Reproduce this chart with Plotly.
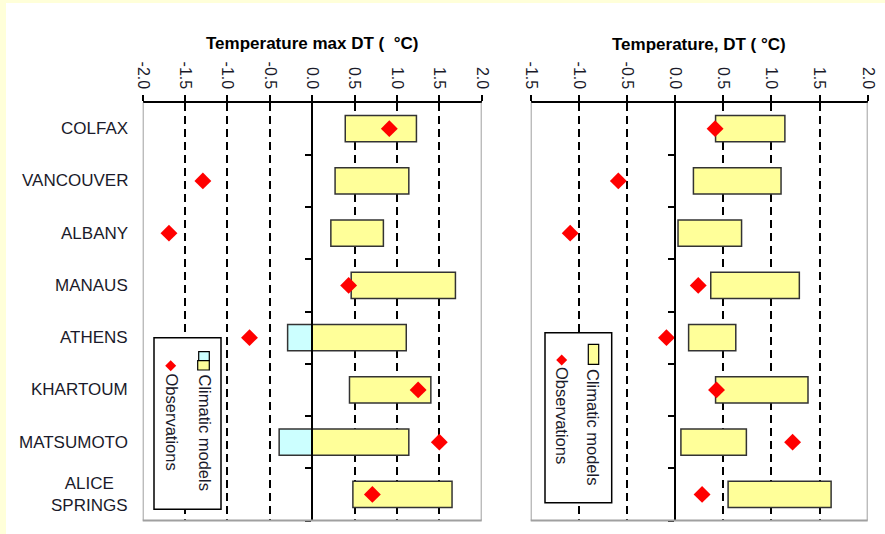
import plotly.graph_objects as go

# ---------------- data ----------------
cities = ["COLFAX", "VANCOUVER", "ALBANY", "MANAUS", "ATHENS", "KHARTOUM",
          "MATSUMOTO", "ALICE<br>SPRINGS"]
# Left panel: Temperature max DT (°C)
max_model_low = [0.39, 0.27, 0.22, 0.46, -0.29, 0.44, -0.39, 0.48]
max_model_high = [1.23, 1.14, 0.84, 1.69, 1.11, 1.40, 1.14, 1.65]
max_obs = [0.91, -1.29, -1.69, 0.43, -0.74, 1.25, 1.50, 0.71]
# Right panel: Temperature, DT (°C)
t_model_low = [0.42, 0.19, 0.03, 0.37, 0.14, 0.42, 0.06, 0.55]
t_model_high = [1.14, 1.10, 0.69, 1.29, 0.63, 1.38, 0.74, 1.62]
t_obs = [0.415, -0.59, -1.09, 0.24, -0.09, 0.43, 1.22, 0.28]

left_ticks = [-2.0, -1.5, -1.0, -0.5, 0.0, 0.5, 1.0, 1.5, 2.0]
right_ticks = [-1.5, -1.0, -0.5, 0.0, 0.5, 1.0, 1.5, 2.0]
left_title = "Temperature max DT ( \u00a0°C)"
right_title = "Temperature, DT ( °C)"
legend_models = "Climatic models"
legend_obs = "Observations"

# ---------------- layout constants ----------------
W, H = 885, 534
FONT = "Liberation Sans, Arial, sans-serif"
TXT = "#1a1a2a"
YELLOW = "#FFFF99"
CYAN = "#CCFFFF"
EDGE = "#333333"


def px(x):
    return x / W


def py(y):
    return 1 - y / H


ydom = [py(520.5), py(102.5)]
left_dom = [px(142.7), px(481.7)]
right_dom = [px(530.7), px(867.7)]
ypos = [i + 0.5 for i in range(len(cities))]

fig = go.Figure()


def add_panel(low, high, obs, xa, ya):
    neg_base, neg_len, neg_y = [], [], []
    pos_base, pos_len = [], []
    for lo, hi, y in zip(low, high, ypos):
        if lo < 0:
            neg_base.append(lo)
            neg_len.append(min(hi, 0) - lo)
            neg_y.append(y)
        b = max(lo, 0)
        pos_base.append(b)
        pos_len.append(hi - b)
    if neg_y:
        fig.add_trace(go.Bar(orientation="h", y=neg_y, x=neg_len, base=neg_base,
                             width=0.5, marker=dict(color=CYAN, line=dict(color=EDGE, width=1.5)),
                             xaxis=xa, yaxis=ya, showlegend=False, hoverinfo="skip"))
    fig.add_trace(go.Bar(orientation="h", y=ypos, x=pos_len, base=pos_base,
                         width=0.5, marker=dict(color=YELLOW, line=dict(color=EDGE, width=1.5)),
                         xaxis=xa, yaxis=ya, showlegend=False, hoverinfo="skip"))
    fig.add_trace(go.Scatter(x=obs, y=ypos, mode="markers",
                             marker=dict(symbol="diamond", size=13, color="#FF0000",
                                         line=dict(width=0)),
                             xaxis=xa, yaxis=ya, showlegend=False, cliponaxis=False))


add_panel(max_model_low, max_model_high, max_obs, "x", "y")
add_panel(t_model_low, t_model_high, t_obs, "x2", "y2")


def xaxis_cfg(dom, ticks, anchor):
    return dict(domain=dom, range=[ticks[0], ticks[-1]], side="top", anchor=anchor,
                tickvals=ticks, ticktext=[f"{t:.1f}" for t in ticks], tickangle=90,
                ticks="outside", ticklen=6, tickwidth=1.5, tickcolor="black",
                showline=True, linecolor="black", linewidth=1.5,
                showgrid=True, gridcolor="black", gridwidth=1.5, griddash="8px,5px",
                zeroline=False, tickfont=dict(family=FONT, size=16, color=TXT),
                fixedrange=True, automargin=False)


def yaxis_cfg(xdom, xr):
    zero_pos = xdom[0] + (0 - xr[0]) / (xr[1] - xr[0]) * (xdom[1] - xdom[0])
    return dict(domain=ydom, range=[len(cities), 0], anchor="free", position=zero_pos,
                tickvals=list(range(1, len(cities) + 1)),
                showticklabels=False, ticks="outside", ticklen=6, tickwidth=1.5,
                tickcolor="black", showline=True, linecolor="black", linewidth=1.5,
                showgrid=False, zeroline=False, fixedrange=True, automargin=False)


fig.update_layout(
    width=W, height=H, margin=dict(l=0, r=0, t=0, b=0, pad=0, autoexpand=False),
    paper_bgcolor="white", plot_bgcolor="rgba(0,0,0,0)",
    barmode="overlay", showlegend=False,
    xaxis=xaxis_cfg(left_dom, left_ticks, "y"),
    yaxis=yaxis_cfg(left_dom, [left_ticks[0], left_ticks[-1]]),
    xaxis2=xaxis_cfg(right_dom, right_ticks, "y2"),
    yaxis2=yaxis_cfg(right_dom, [right_ticks[0], right_ticks[-1]]),
)

shapes = []
# pale yellow border strips
shapes.append(dict(type="rect", xref="paper", yref="paper", x0=0, x1=px(6), y0=0, y1=1,
                   fillcolor="#FFFFD9", line=dict(width=0), layer="below"))
shapes.append(dict(type="rect", xref="paper", yref="paper", x0=0, x1=1, y0=py(3), y1=1,
                   fillcolor="#FFFFD9", line=dict(width=0), layer="below"))
# gray frames (left, right, bottom)
for xa, ya, ticks in (("x", "y", left_ticks), ("x2", "y2", right_ticks)):
    for xv in (ticks[0], ticks[-1]):
        shapes.append(dict(type="line", xref=xa, yref=ya + " domain", x0=xv, x1=xv, y0=0, y1=1,
                           line=dict(color="#A0A0A0", width=2), layer="above"))
    shapes.append(dict(type="line", xref=xa + " domain", yref=ya + " domain", x0=0, x1=1, y0=0, y1=0,
                       line=dict(color="#A0A0A0", width=2), layer="above"))


def prect(x0, y0, x1, y1, fill, lw=1.5):
    return dict(type="rect", xref="paper", yref="paper", x0=px(x0), x1=px(x1),
                y0=py(y1), y1=py(y0), fillcolor=fill, line=dict(color="black", width=lw),
                layer="above")


def pdiamond(cx, cy, hw, hh):
    pts = [(cx, cy - hh), (cx + hw, cy), (cx, cy + hh), (cx - hw, cy)]
    path = "M " + " L ".join(f"{px(a):.5f},{py(b):.5f}" for a, b in pts) + " Z"
    return dict(type="path", xref="paper", yref="paper", path=path,
                fillcolor="#FF0000", line=dict(width=0), layer="above")


# left legend
shapes.append(prect(154, 337.7, 221, 509.3, "white"))
shapes.append(prect(198.7, 351.7, 209.3, 360.7, CYAN, 1.2))
shapes.append(prect(197.7, 360.7, 209.3, 370, YELLOW, 1.2))
shapes.append(pdiamond(170.7, 365.7, 5.5, 5.5))
# right legend
shapes.append(prect(545, 332.7, 611.7, 502.7, "white"))
shapes.append(prect(588.3, 344.3, 598.7, 364.3, YELLOW, 1.2))
shapes.append(pdiamond(561.7, 360, 5.5, 5.5))
fig.update_layout(shapes=shapes)

ann = []
for c, y in zip(cities, ypos):
    ann.append(dict(text=c, xref="paper", yref="y", x=px(130), y=y, xanchor="right",
                    yanchor="middle", align="center", showarrow=False,
                    font=dict(family=FONT, size=17, color=TXT)))
ann.append(dict(text=f"<b>{left_title}</b>", xref="paper", yref="paper",
                x=(left_dom[0] + left_dom[1]) / 2, y=py(44), xanchor="center", yanchor="middle",
                showarrow=False, font=dict(family=FONT, size=17, color="black")))
ann.append(dict(text=f"<b>{right_title}</b>", xref="paper", yref="paper",
                x=(right_dom[0] + right_dom[1]) / 2, y=py(45), xanchor="center", yanchor="middle",
                showarrow=False, font=dict(family=FONT, size=17, color="black")))
for txt, cx, cy in ((legend_models, 205, 432.5), (legend_obs, 171.5, 422),
                    (legend_models, 593.5, 426.5), (legend_obs, 562.5, 415.5)):
    ann.append(dict(text=txt, xref="paper", yref="paper", x=px(cx), y=py(cy), textangle=90,
                    xanchor="center", yanchor="middle", showarrow=False,
                    font=dict(family=FONT, size=16.5, color=TXT)))
fig.update_layout(annotations=ann)

fig.write_html("out.html")
